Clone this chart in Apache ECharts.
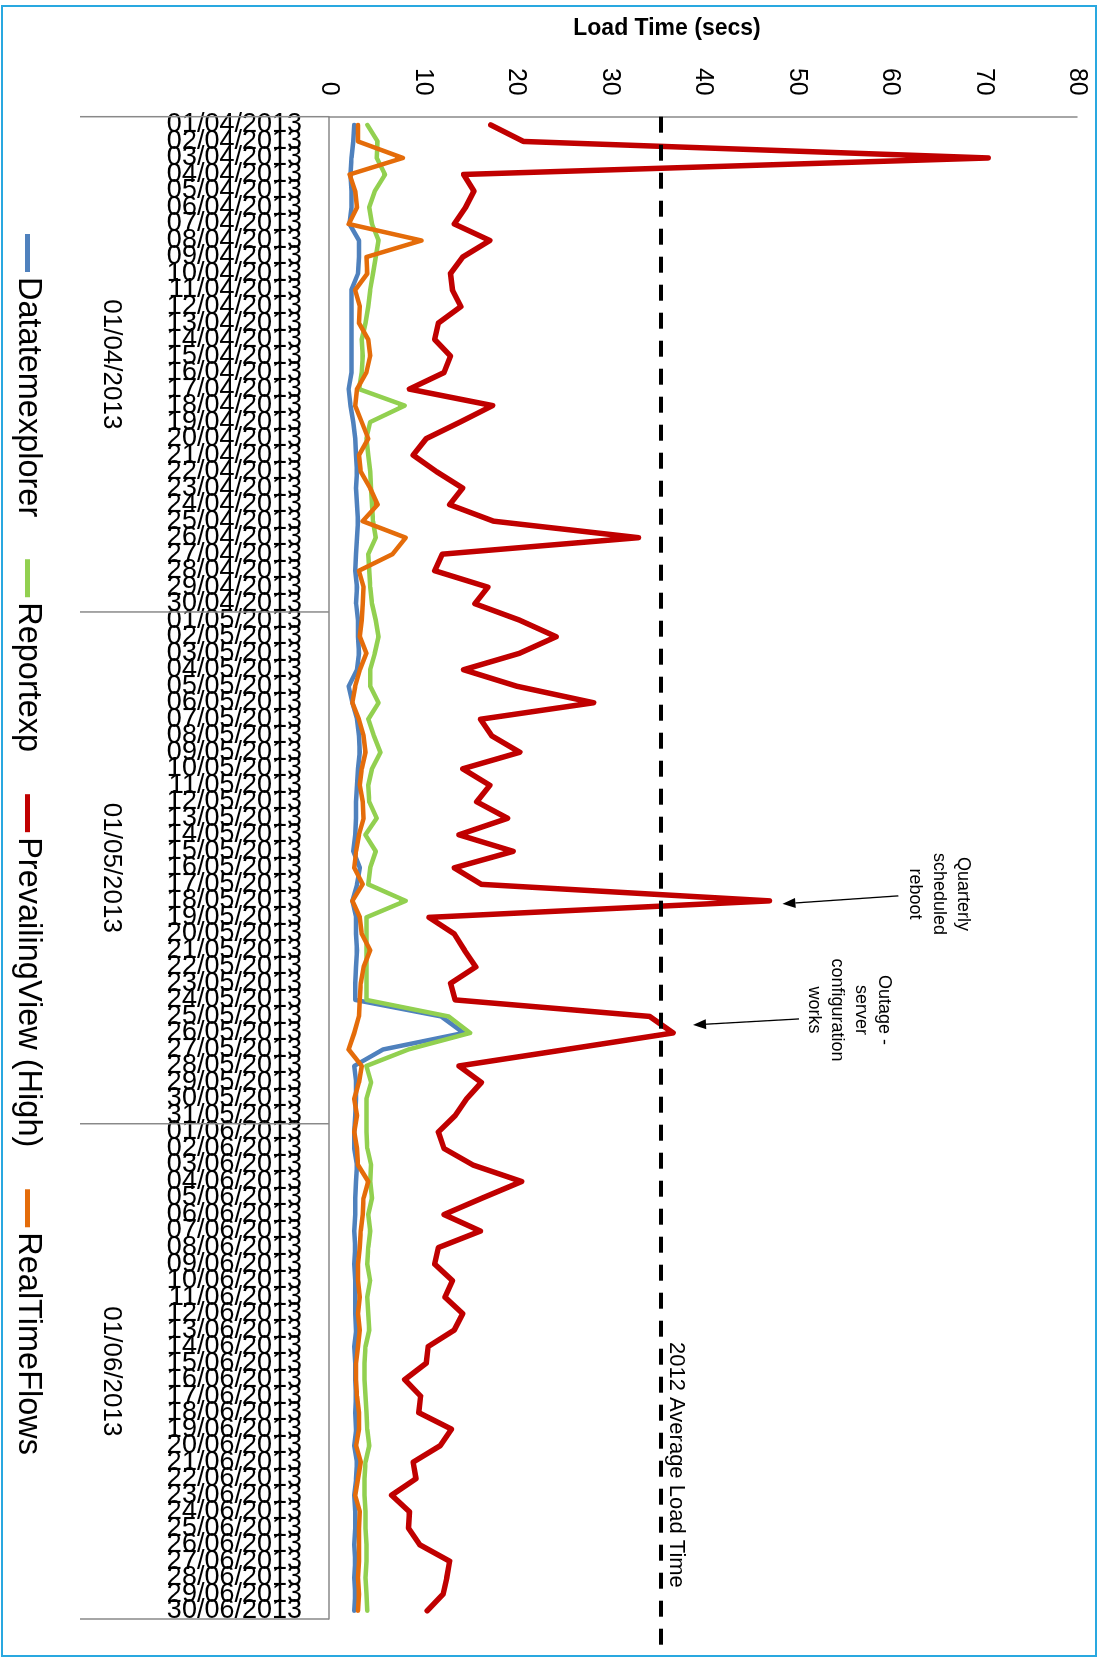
<!DOCTYPE html>
<html><head><meta charset="utf-8">
<script src="https://cdn.jsdelivr.net/npm/echarts/dist/echarts.min.js"></script>
<style>
html,body{margin:0;padding:0;background:#fff;width:1104px;height:1658px;overflow:hidden;}
#chart{position:absolute;left:0;top:0;width:1658px;height:1104px;transform-origin:0 0;transform:translate(1104px,0) rotate(90deg);}
</style></head><body><div id="chart"></div>
<script>
// ---- data ----
const monthDefs = [['04', 30], ['05', 31], ['06', 30]];
const dates = [];
monthDefs.forEach(function (m) { for (let d = 1; d <= m[1]; d++) dates.push((d < 10 ? '0' + d : '' + d) + '/' + m[0] + '/2013'); });
const monthLabels = ['01/04/2013', '01/05/2013', '01/06/2013'];
const monthStartIdx = [0, 30, 61];
const monthEndIdx = [29, 60, 90];
const valueTicks = [0, 10, 20, 30, 40, 50, 60, 70, 80];
const avgLoad2012 = 35.5;

const datatemexplorer = [2.7,2.6,2.4,2.3,2.4,2.4,2.2,3.2,3.2,3.1,2.4,2.4,2.4,2.4,2.4,2.4,2.1,2.3,2.6,2.8,2.9,3.0,2.9,3.0,3.1,3.0,2.9,2.8,3.0,2.9,
  3.1,3.1,3.2,3.0,2.1,2.5,3.0,3.2,3.3,3.1,3.0,2.9,2.9,2.8,2.6,3.3,3.0,2.5,2.9,2.9,3.0,2.9,2.8,2.8,12.0,14.4,5.8,2.7,2.9,2.9,2.8,
  2.7,2.7,3.0,2.9,2.8,2.8,2.7,2.8,2.7,2.8,2.8,2.8,2.9,2.7,2.8,2.8,2.9,2.8,2.9,2.7,3.0,2.9,2.7,2.8,2.8,2.7,2.8,2.7,2.8,2.7];
const reportexp = [4.1,5.2,5.1,6.0,4.9,4.3,4.6,5.3,5.0,4.7,4.4,4.2,3.9,3.5,3.6,3.5,3.2,8.1,4.4,4.0,4.2,4.4,4.5,4.6,4.7,5.0,4.2,4.3,4.4,4.6,
  5.0,5.3,4.9,4.4,4.4,5.3,4.2,4.8,5.5,4.6,4.2,4.3,5.1,3.9,5.0,4.4,4.2,8.2,4.0,4.0,4.0,4.0,4.0,4.0,12.8,15.1,8.5,4.0,4.5,4.0,4.0,
  4.0,4.1,4.5,4.4,4.6,4.2,4.4,4.2,4.1,4.4,4.1,4.2,4.3,3.9,3.8,3.8,3.9,4.0,4.1,4.3,3.9,3.8,3.8,3.9,3.9,4.0,4.0,3.9,4.0,4.1];
const prevailingView = [17.3,20.8,70.5,14.4,15.5,14.6,13.4,17.2,14.3,13.0,13.2,14.1,11.7,11.3,13.0,12.3,8.6,17.5,14.0,10.4,9.0,11.5,14.3,12.9,17.6,33.1,12.1,11.3,17.0,15.6,
  20.4,24.3,20.4,14.4,20.1,28.3,16.2,17.4,20.4,14.3,17.2,15.8,19.1,13.9,19.7,13.4,16.3,47.1,10.7,13.4,14.5,15.7,13.0,13.5,34.3,36.8,25.4,13.9,16.3,14.7,13.5,
  11.7,12.3,15.4,20.6,16.4,12.3,16.2,11.7,11.3,13.2,12.4,14.3,13.4,10.6,10.4,8.1,9.8,9.6,13.1,11.9,9.0,9.3,6.7,8.6,8.5,9.7,12.9,12.6,12.2,10.5];
const realTimeFlows = [3.1,3.1,7.9,2.2,2.8,3.0,2.1,9.9,4.0,4.1,2.8,3.3,3.2,4.2,4.4,4.0,3.0,2.8,3.5,4.2,3.2,3.4,4.4,5.2,3.6,8.2,6.8,3.2,3.7,3.6,
  3.5,3.3,4.0,3.3,2.8,2.5,3.2,3.7,3.9,3.5,3.3,3.6,3.7,3.2,2.9,2.7,3.6,2.5,3.3,3.5,4.4,3.7,3.4,3.3,3.2,2.7,2.1,3.5,3.2,2.7,3.0,
  2.7,3.0,3.1,4.2,3.7,3.6,3.4,3.3,3.1,3.1,3.3,3.1,3.3,3.1,2.9,2.9,3.0,3.2,3.2,2.9,3.4,3.1,2.8,3.3,3.2,3.2,3.2,3.1,3.2,3.1];

const FONT = "'Liberation Sans', Arial, sans-serif";
const GRAY = '#898989';

const chart = echarts.init(document.getElementById('chart'), null, { renderer: 'canvas' });
const mkSeries = function (name, data, color, width) {
  return { name: name, type: 'line', data: data, showSymbol: false, symbol: 'none', smooth: false,
    lineStyle: { color: color, width: width, join: 'round', cap: 'round' }, itemStyle: { color: color }, emphasis: { disabled: true } };
};
chart.setOption({
  animation: false,
  backgroundColor: '#fff',
  textStyle: { fontFamily: FONT },
  grid: { left: 116.7, right: 39, top: 27, bottom: 329 },
  legend: {
    left: 229, top: 1055, itemGap: 42, itemWidth: 38, itemHeight: 5, icon: 'rect',
    textStyle: { fontSize: 32.5, color: '#000', fontFamily: FONT },
    data: ['Datatemexplorer', 'Reportexp', 'PrevailingView (High)', 'RealTimeFlows']
  },
  xAxis: {
    type: 'category', data: dates, boundaryGap: true,
    axisLine: { lineStyle: { color: GRAY, width: 1.5 } },
    axisTick: { show: false },
    axisLabel: { interval: 0, rotate: 90, margin: 27, fontSize: 27, color: '#000', fontFamily: FONT }
  },
  yAxis: {
    type: 'value', min: valueTicks[0], max: valueTicks[valueTicks.length - 1], interval: 10,
    axisLine: { show: true, lineStyle: { color: GRAY, width: 1.5 } },
    axisTick: { show: false }, splitLine: { show: false },
    axisLabel: { margin: 21, fontSize: 25, color: '#000', fontFamily: FONT }
  },
  series: [
    mkSeries('Datatemexplorer', datatemexplorer, '#4F81BD', 4.5),
    mkSeries('Reportexp', reportexp, '#92D050', 4.5),
    mkSeries('PrevailingView (High)', prevailingView, '#C00000', 5.5),
    mkSeries('RealTimeFlows', realTimeFlows, '#E46C0A', 4.5)
  ]
});

// ---- annotations & multi-level axis, positioned through the chart's scales ----
const px = function (i, v) { return chart.convertToPixel({ gridIndex: 0 }, [dates[i], v]); };
const cx0 = px(0, 0)[0], bw = px(1, 0)[0] - cx0, yZero = px(0, 0)[1];
const g = [];
g.push({ type: 'rect', shape: { x: 6, y: 8, width: 1650, height: 1094 }, style: { fill: 'none', stroke: '#29A8E0', lineWidth: 2 }, z: 1 });
[0, 30, 61, 91].forEach(function (k) {
  const bx = cx0 - bw / 2 + k * bw;
  g.push({ type: 'line', shape: { x1: bx, y1: yZero, x2: bx, y2: 1024 }, style: { stroke: GRAY, lineWidth: 1.5 }, z: 5 });
});
monthLabels.forEach(function (lab, j) {
  const mx = (px(monthStartIdx[j], 0)[0] + px(monthEndIdx[j], 0)[0]) / 2;
  g.push({ type: 'text', x: mx, y: 993, style: { text: lab, font: '26px ' + FONT, fill: '#000', align: 'center', verticalAlign: 'middle', textAlign: 'center', textVerticalAlign: 'middle' }, z: 5 });
});
const yAvg = px(0, avgLoad2012)[1];
g.push({ type: 'line', shape: { x1: cx0 - bw / 2, y1: yAvg, x2: 1650, y2: yAvg }, style: { stroke: '#000', lineWidth: 4, lineDash: [16, 12] }, z: 10 });
g.push({ type: 'text', x: 1342, y: yAvg - 4, style: { text: '2012 Average Load Time', font: '22px ' + FONT, fill: '#000', align: 'left', verticalAlign: 'bottom', textAlign: 'left', textVerticalAlign: 'bottom' }, z: 10 });
g.push({ type: 'text', x: 28.5, y: 437, rotation: Math.PI / 2, style: { text: 'Load Time (secs)', font: 'bold 23px ' + FONT, fill: '#000', align: 'center', verticalAlign: 'middle', textAlign: 'center', textVerticalAlign: 'middle' }, z: 10 });
g.push({ type: 'text', x: 894, y: 165, style: { text: 'Quarterly\nscheduled\nreboot', font: '18px ' + FONT, lineHeight: 24, fill: '#000', align: 'center', verticalAlign: 'middle', textAlign: 'center', textVerticalAlign: 'middle' }, z: 10 });
g.push({ type: 'text', x: 1010, y: 255, style: { text: 'Outage -\nserver\nconfiguration\nworks', font: '18px ' + FONT, lineHeight: 23.5, fill: '#000', align: 'center', verticalAlign: 'middle', textAlign: 'center', textVerticalAlign: 'middle' }, z: 10 });
function arrow(tip, start) {
  const dx = tip[0] - start[0], dy = tip[1] - start[1], L = Math.sqrt(dx * dx + dy * dy);
  const ux = dx / L, uy = dy / L, nx = -uy, ny = ux, hl = 13, hw = 5;
  const bx = tip[0] - ux * hl, by = tip[1] - uy * hl;
  g.push({ type: 'line', shape: { x1: start[0], y1: start[1], x2: bx, y2: by }, style: { stroke: '#000', lineWidth: 1.3 }, z: 10 });
  g.push({ type: 'polygon', shape: { points: [[tip[0], tip[1]], [bx + nx * hw, by + ny * hw], [bx - nx * hw, by - ny * hw]] }, style: { fill: '#000' }, z: 10 });
}
const pk1 = px(47, prevailingView[47]);
const t1 = [pk1[0] + 3, pk1[1] - 13];
arrow(t1, [t1[0] - 8, t1[1] - 116]);
const pk2 = px(55, prevailingView[55]);
const t2 = [pk2[0] - 8, pk2[1] - 20];
arrow(t2, [t2[0] - 6, t2[1] - 106]);
chart.setOption({ graphic: g });
</script></body></html>
